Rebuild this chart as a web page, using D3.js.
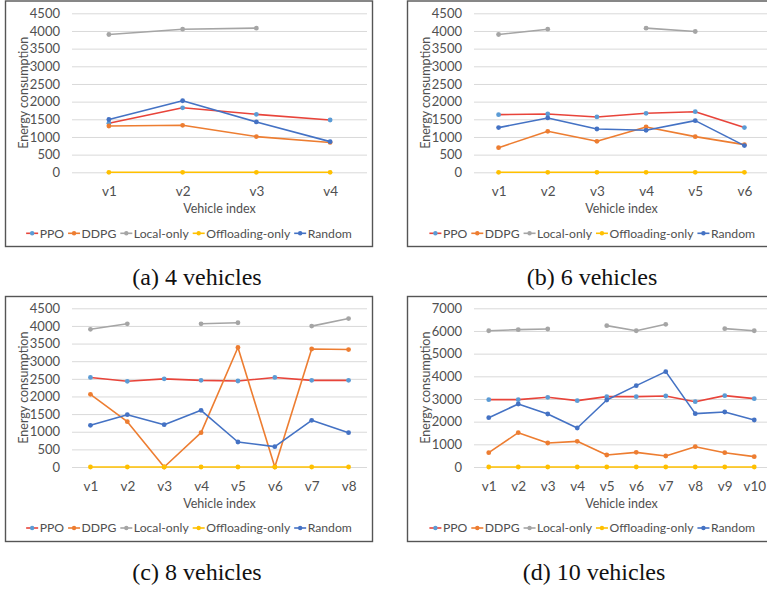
<!DOCTYPE html>
<html><head><meta charset="utf-8">
<script src="https://cdn.jsdelivr.net/npm/d3@7"></script>
<style>
html,body{margin:0;padding:0;background:#fff;overflow:hidden;}
svg{display:block;}
</style></head>
<body>
<svg id="chart" width="767" height="589"></svg>
<script>
// ---------------- DATA ----------------
const seriesNames = ["PPO", "DDPG", "Local-only", "Offloading-only", "Random"];

const cats4 = ["v1", "v2", "v3", "v4"];
const ppo4 = [1390, 1825, 1640, 1480];
const ddpg4 = [1310, 1330, 1010, 845];
const local4 = [3900, 4050, 4080, null];
const offload4 = [0, 0, 0, 0];
const random4 = [1495, 2025, 1425, 868];

const cats6 = ["v1", "v2", "v3", "v4", "v5", "v6"];
const ppo6 = [1632, 1650, 1566, 1670, 1715, 1265];
const ddpg6 = [698, 1160, 877, 1283, 1009, 783];
const local6 = [3900, 4050, null, 4080, 3985, null];
const offload6 = [0, 0, 0, 0, 0, 0];
const random6 = [1265, 1538, 1226, 1189, 1462, 755];

const cats8 = ["v1", "v2", "v3", "v4", "v5", "v6", "v7", "v8"];
const ppo8 = [2540, 2430, 2500, 2457, 2438, 2540, 2457, 2457];
const ddpg8 = [2060, 1285, 0, 973, 3390, 0, 3346, 3330];
const local8 = [3905, 4060, null, 4060, 4090, null, 3995, 4210];
const offload8 = [0, 0, 0, 0, 0, 0, 0, 0];
const random8 = [1181, 1484, 1200, 1607, 709, 577, 1323, 973];

const cats10 = ["v1", "v2", "v3", "v4", "v5", "v6", "v7", "v8", "v9", "v10"];
const ppo10 = [2971, 2971, 3074, 2926, 3103, 3103, 3132, 2882, 3147, 3015];
const ddpg10 = [632, 1515, 1059, 1132, 529, 647, 485, 897, 632, 456];
const local10 = [6010, 6059, 6088, null, 6235, 6010, 6294, null, 6103, 6010];
const offload10 = [0, 0, 0, 0, 0, 0, 0, 0, 0, 0];
const random10 = [2176, 2779, 2338, 1721, 2956, 3588, 4206, 2353, 2426, 2074];

const yTicks4500 = [0, 500, 1000, 1500, 2000, 2500, 3000, 3500, 4000, 4500];
const yTicks7000 = [0, 1000, 2000, 3000, 4000, 5000, 6000, 7000];

const captions = ["(a) 4 vehicles", "(b) 6 vehicles", "(c) 8 vehicles", "(d) 10 vehicles"];
const yTitle = "Energy consumption";
const xTitle = "Vehicle index";

// ---------------- STYLE ----------------
const lineColors = ["#E8443A", "#ED7D31", "#A5A5A5", "#FFC000", "#4472C4"];
const markerColors = ["#5B9BD5", "#ED7D31", "#A5A5A5", "#FFC000", "#4472C4"];
const textColor = "#505050";
const gridColor = "#D9D9D9";
const uiFont = "Lato, 'Open Sans', sans-serif";

const panels = [
  {bx0: 5.5, by0: 1, bx1: 372.5, by1: 246.5, pl: 72, pr: 367, yt: 13.3, yb: 172.3,
   cats: cats4, series: [ppo4, ddpg4, local4, offload4, random4], ticks: yTicks4500, ymax: 4500, cap: captions[0], capX: 197, capY: 285},
  {bx0: 407.5, by0: 1, bx1: 777, by1: 246.5, pl: 474, pr: 769, yt: 13.3, yb: 172.3,
   cats: cats6, series: [ppo6, ddpg6, local6, offload6, random6], ticks: yTicks4500, ymax: 4500, cap: captions[1], capX: 592, capY: 285},
  {bx0: 5.5, by0: 296.5, bx1: 372.5, by1: 541.5, pl: 72, pr: 367, yt: 308.3, yb: 467,
   cats: cats8, series: [ppo8, ddpg8, local8, offload8, random8], ticks: yTicks4500, ymax: 4500, cap: captions[2], capX: 197, capY: 580},
  {bx0: 407.5, by0: 296.5, bx1: 777, by1: 541.5, pl: 474, pr: 769, yt: 308.3, yb: 467,
   cats: cats10, series: [ppo10, ddpg10, local10, offload10, random10], ticks: yTicks7000, ymax: 7000, cap: captions[3], capX: 594, capY: 580}
];

const svg = d3.select("#chart");

panels.forEach(p => {
  const g = svg.append("g");
  // frame
  g.append("rect")
    .attr("x", p.bx0).attr("y", p.by0)
    .attr("width", p.bx1 - p.bx0).attr("height", p.by1 - p.by0)
    .attr("fill", "#fff").attr("stroke", "#555").attr("stroke-width", 1.4);

  const x = d3.scalePoint().domain(p.cats).range([p.pl, p.pr]).padding(0.5);
  const y = d3.scaleLinear().domain([0, p.ymax]).range([p.yb, p.yt]);

  // y axis with gridlines
  const ya = g.append("g").attr("transform", `translate(${p.pl},0)`)
    .call(d3.axisLeft(y).tickValues(p.ticks).tickSize(-(p.pr - p.pl)).tickPadding(12).tickFormat(d3.format("d")));
  ya.select(".domain").remove();
  ya.selectAll(".tick line").attr("stroke", gridColor).attr("stroke-width", 1);
  ya.selectAll(".tick text").attr("fill", textColor).style("font-family", uiFont).style("font-size", "13px");

  // x axis labels
  const xa = g.append("g").attr("transform", `translate(0,${p.yb})`)
    .call(d3.axisBottom(x).tickSize(0).tickPadding(14));
  xa.select(".domain").remove();
  xa.selectAll(".tick text").attr("fill", textColor).style("font-family", uiFont).style("font-size", "13.5px");

  // titles
  g.append("text")
    .attr("transform", `translate(${p.bx0 + 18},${(p.yt + p.yb) / 2}) rotate(-90)`)
    .attr("text-anchor", "middle").attr("dy", "0.35em")
    .attr("fill", textColor).style("font-family", uiFont).style("font-size", "12.5px")
    .text(yTitle);
  g.append("text")
    .attr("x", (p.pl + p.pr) / 2).attr("y", p.yb + 41)
    .attr("text-anchor", "middle")
    .attr("fill", textColor).style("font-family", uiFont).style("font-size", "12.5px")
    .text(xTitle);

  // series
  p.series.forEach((vals, si) => {
    const pts = p.cats.map((c, i) => ({c, v: vals[i]}));
    const line = d3.line().defined(d => d.v !== null).x(d => x(d.c)).y(d => y(d.v));
    g.append("path").datum(pts)
      .attr("fill", "none").attr("stroke", lineColors[si]).attr("stroke-width", 1.6)
      .attr("stroke-linejoin", "round").attr("d", line);
    g.selectAll(null).data(pts.filter(d => d.v !== null)).enter().append("circle")
      .attr("cx", d => x(d.c)).attr("cy", d => y(d.v)).attr("r", 2.4)
      .attr("fill", markerColors[si]);
  });

  // legend
  const lg = g.append("g");
  let cx = 0;
  seriesNames.forEach((name, si) => {
    const it = lg.append("g");
    it.append("line").attr("x1", 0).attr("x2", 12).attr("y1", 0).attr("y2", 0)
      .attr("stroke", lineColors[si]).attr("stroke-width", 1.6);
    it.append("circle").attr("cx", 6).attr("cy", 0).attr("r", 2.2).attr("fill", markerColors[si]);
    const t = it.append("text").attr("x", 13.5).attr("dy", "0.35em")
      .attr("fill", textColor).style("font-family", uiFont).style("font-size", "12.2px").text(name);
    const w = 13.5 + t.node().getComputedTextLength();
    it.attr("transform", `translate(${cx},0)`);
    cx += w + 4;
  });
  const total = cx - 4;
  lg.attr("transform", `translate(${(p.bx0 + p.bx1) / 2 - total / 2},${p.yb + 61})`);

  // caption
  svg.append("text")
    .attr("x", p.capX).attr("y", p.capY)
    .attr("text-anchor", "middle").attr("fill", "#111")
    .style("font-family", "'Liberation Serif', 'DejaVu Serif', serif").style("font-size", "24px")
    .text(p.cap);
});
</script>
</body></html>
